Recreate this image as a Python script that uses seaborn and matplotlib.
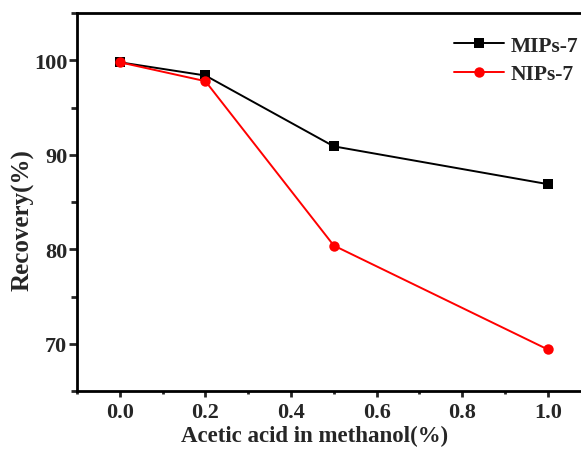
import pandas as pd
import matplotlib
matplotlib.use("Agg")
import matplotlib.pyplot as plt
import seaborn as sns
from matplotlib.ticker import MultipleLocator

sns.set_theme(style="ticks")
plt.rcParams['font.family'] = ['Liberation Serif', 'DejaVu Serif']
plt.rcParams['font.weight'] = 'bold'

# Data
acid = [0.0, 0.2, 0.5, 1.0]
mips = [99.8, 98.4, 90.9, 86.9]
nips = [99.8, 97.8, 80.4, 69.4]

df = pd.concat([
    pd.DataFrame({'acid': acid, 'recovery': mips, 'sample': 'MIPs-7'}),
    pd.DataFrame({'acid': acid, 'recovery': nips, 'sample': 'NIPs-7'}),
])

fig = plt.figure(figsize=(5.81, 4.52), dpi=100)
ax = fig.add_axes([0.1325, 0.1327, 0.884, 0.836])

sns.lineplot(data=df, x='acid', y='recovery', hue='sample', style='sample',
             palette={'MIPs-7': 'black', 'NIPs-7': 'red'},
             markers={'MIPs-7': 's', 'NIPs-7': 'o'}, dashes=False,
             markersize=7.5, markeredgewidth=0, linewidth=1.4, ax=ax)

ax.set_xlim(-0.1, 1.1)
ax.set_ylim(65, 105)
ax.xaxis.set_minor_locator(MultipleLocator(0.1))
ax.yaxis.set_minor_locator(MultipleLocator(5))
ax.set_xticks([0.0, 0.2, 0.4, 0.6, 0.8, 1.0])
ax.set_xticklabels(['0.0', '0.2', '0.4', '0.6', '0.8', '1.0'])
ax.set_yticks([70, 80, 90, 100])
ax.tick_params(axis='x', which='major', direction='out', length=4, width=2, labelsize=16, pad=4)
ax.tick_params(axis='x', which='minor', direction='out', length=2.5, width=2)
ax.tick_params(axis='y', which='major', direction='out', length=6, width=2, labelsize=16, pad=1)
ax.tick_params(axis='y', which='minor', direction='out', length=4.5, width=2)
for lab in ax.get_xticklabels() + ax.get_yticklabels():
    lab.set_fontweight('bold')

for s in ax.spines.values():
    s.set_linewidth(2)
    s.set_color('black')

ax.set_xlabel('Acetic acid in methanol(%)', fontsize=16.5, fontweight='bold')
ax.set_ylabel('Recovery(%)', fontsize=18, fontweight='bold')
ax.xaxis.set_label_coords(0.463, -0.09)
ax.yaxis.set_label_coords(-0.082, 0.455)

handles, labels = ax.get_legend_handles_labels()
ax.legend(handles, labels, loc='upper left', bbox_to_anchor=(445 / 581, 1 - 28 / 452),
          bbox_transform=fig.transFigure, frameon=False,
          handlelength=2.35, handletextpad=0.3, labelspacing=0.4, borderaxespad=0,
          prop={'weight': 'bold', 'size': 15.5})

fig.savefig('out.png', dpi=100)
